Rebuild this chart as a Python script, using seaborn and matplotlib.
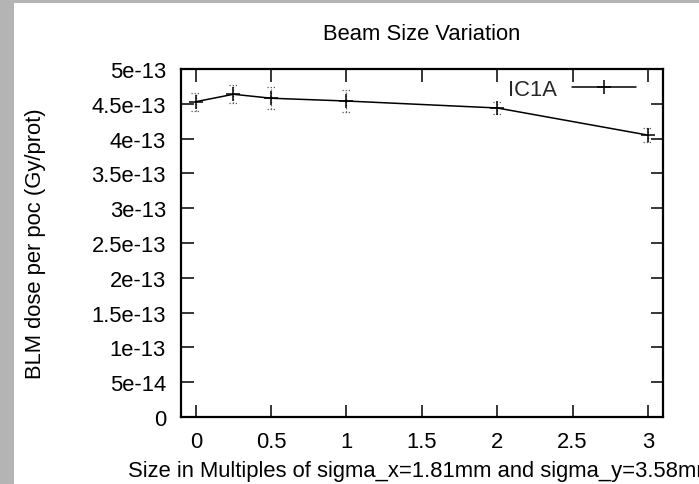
import numpy as np
import pandas as pd
import matplotlib
matplotlib.use("Agg")
import matplotlib.pyplot as plt
from matplotlib.patches import Rectangle
import seaborn as sns

# ---- data ----
beam_size = [0.0, 0.25, 0.5, 1.0, 2.0, 3.0]
dose = [4.53e-13, 4.637e-13, 4.58e-13, 4.54e-13, 4.44e-13, 4.05e-13]
dose_err = [1.3e-14, 1.3e-14, 1.6e-14, 1.58e-14, 0.8e-14, 1.0e-14]
series_name = "IC1A"
xtick_values = [0, 0.5, 1, 1.5, 2, 2.5, 3]
xtick_labels = ["0", "0.5", "1", "1.5", "2", "2.5", "3"]
ytick_values = [0, 5e-14, 1e-13, 1.5e-13, 2e-13, 2.5e-13, 3e-13, 3.5e-13, 4e-13, 4.5e-13, 5e-13]
ytick_labels = ["0", "5e-14", "1e-13", "1.5e-13", "2e-13", "2.5e-13", "3e-13",
                "3.5e-13", "4e-13", "4.5e-13", "5e-13"]
title = "Beam Size Variation"
xlabel = "Size in Multiples of sigma_x=1.81mm and sigma_y=3.58mm"
ylabel = "BLM dose per poc (Gy/prot)"

df = pd.DataFrame({"size": beam_size, "dose": dose, "err": dose_err})

sns.set_style("ticks")
plt.rcParams["font.family"] = ["Liberation Sans", "DejaVu Sans"]

FS = 15.8
W, H = 699, 485
fig = plt.figure(figsize=(W / 100, H / 100), dpi=100)
fig.patch.set_facecolor("white")

# gray frame strips (left and top)
fig.add_artist(Rectangle((0, 0), 14 / W, 1, transform=fig.transFigure,
                         facecolor="#b4b4b4", edgecolor="none", zorder=-10))
fig.add_artist(Rectangle((0, 1 - 4 / H), 1, 4 / H, transform=fig.transFigure,
                         facecolor="#b4b4b4", edgecolor="none", zorder=-10))

ax_l, ax_r, ax_t, ax_b = 180.7, 663, 70, 418
ax = fig.add_axes([ax_l / W, 1 - ax_b / H, (ax_r - ax_l) / W, (ax_b - ax_t) / H])
ax.set_facecolor("white")

# error bars (dotted, gnuplot-like)
x = df["size"].to_numpy()
lo = (df["dose"] - df["err"]).to_numpy()
hi = (df["dose"] + df["err"]).to_numpy()
cw = 0.03
ax.vlines(x, lo, hi, colors="0.35", linestyles=(0, (1, 1.5)), linewidth=0.9, zorder=2)
ax.hlines(lo, x - cw, x + cw, colors="0.35", linestyles=(0, (1, 1.5)), linewidth=0.9, zorder=2)
ax.hlines(hi, x - cw, x + cw, colors="0.35", linestyles=(0, (1, 1.5)), linewidth=0.9, zorder=2)

sns.lineplot(data=df, x="size", y="dose", ax=ax, color="black", linewidth=1.1,
             marker="+", markersize=10, markeredgewidth=1.1, markeredgecolor="black",
             label=series_name, zorder=3)

ax.set_xlim(-0.1, 3.1)
ax.set_ylim(0, 5e-13)
ax.set_xticks(xtick_values)
ax.set_xticklabels(xtick_labels)
ax.set_yticks(ytick_values)
ax.set_yticklabels(ytick_labels)
ax.minorticks_off()

ax.tick_params(axis="both", direction="in", length=9, width=1.1, color="black",
               top=True, right=True, labelsize=FS, labelcolor="black")
ax.tick_params(axis="y", pad=10.5)
ax.tick_params(axis="x", pad=10)
for s in ax.spines.values():
    s.set_linewidth(1.6)
    s.set_color("black")
    s.set_visible(True)

ax.set_title(title, fontsize=FS, y=(ax_b - 35) / (ax_b - ax_t), va="center",
             color="black", pad=0)
ax.set_xlabel(xlabel, fontsize=FS, color="black")
ax.xaxis.set_label_coords(0.5, (ax_b - 472) / (ax_b - ax_t))
ax.xaxis.label.set_va("center")
ax.set_ylabel(ylabel, fontsize=FS, color="black")
ax.yaxis.set_label_coords((36 - ax_l) / (ax_r - ax_l), 0.5)
ax.yaxis.label.set_va("center")

leg = ax.legend(loc="upper right", bbox_to_anchor=((636 - ax_l) / (ax_r - ax_l), (ax_b - 80) / (ax_b - ax_t)),
                frameon=False, markerfirst=False, fontsize=FS, handlelength=2.9,
                handletextpad=0.7, borderaxespad=0, borderpad=0)

fig.savefig("out.png", dpi=100, facecolor=fig.get_facecolor())
